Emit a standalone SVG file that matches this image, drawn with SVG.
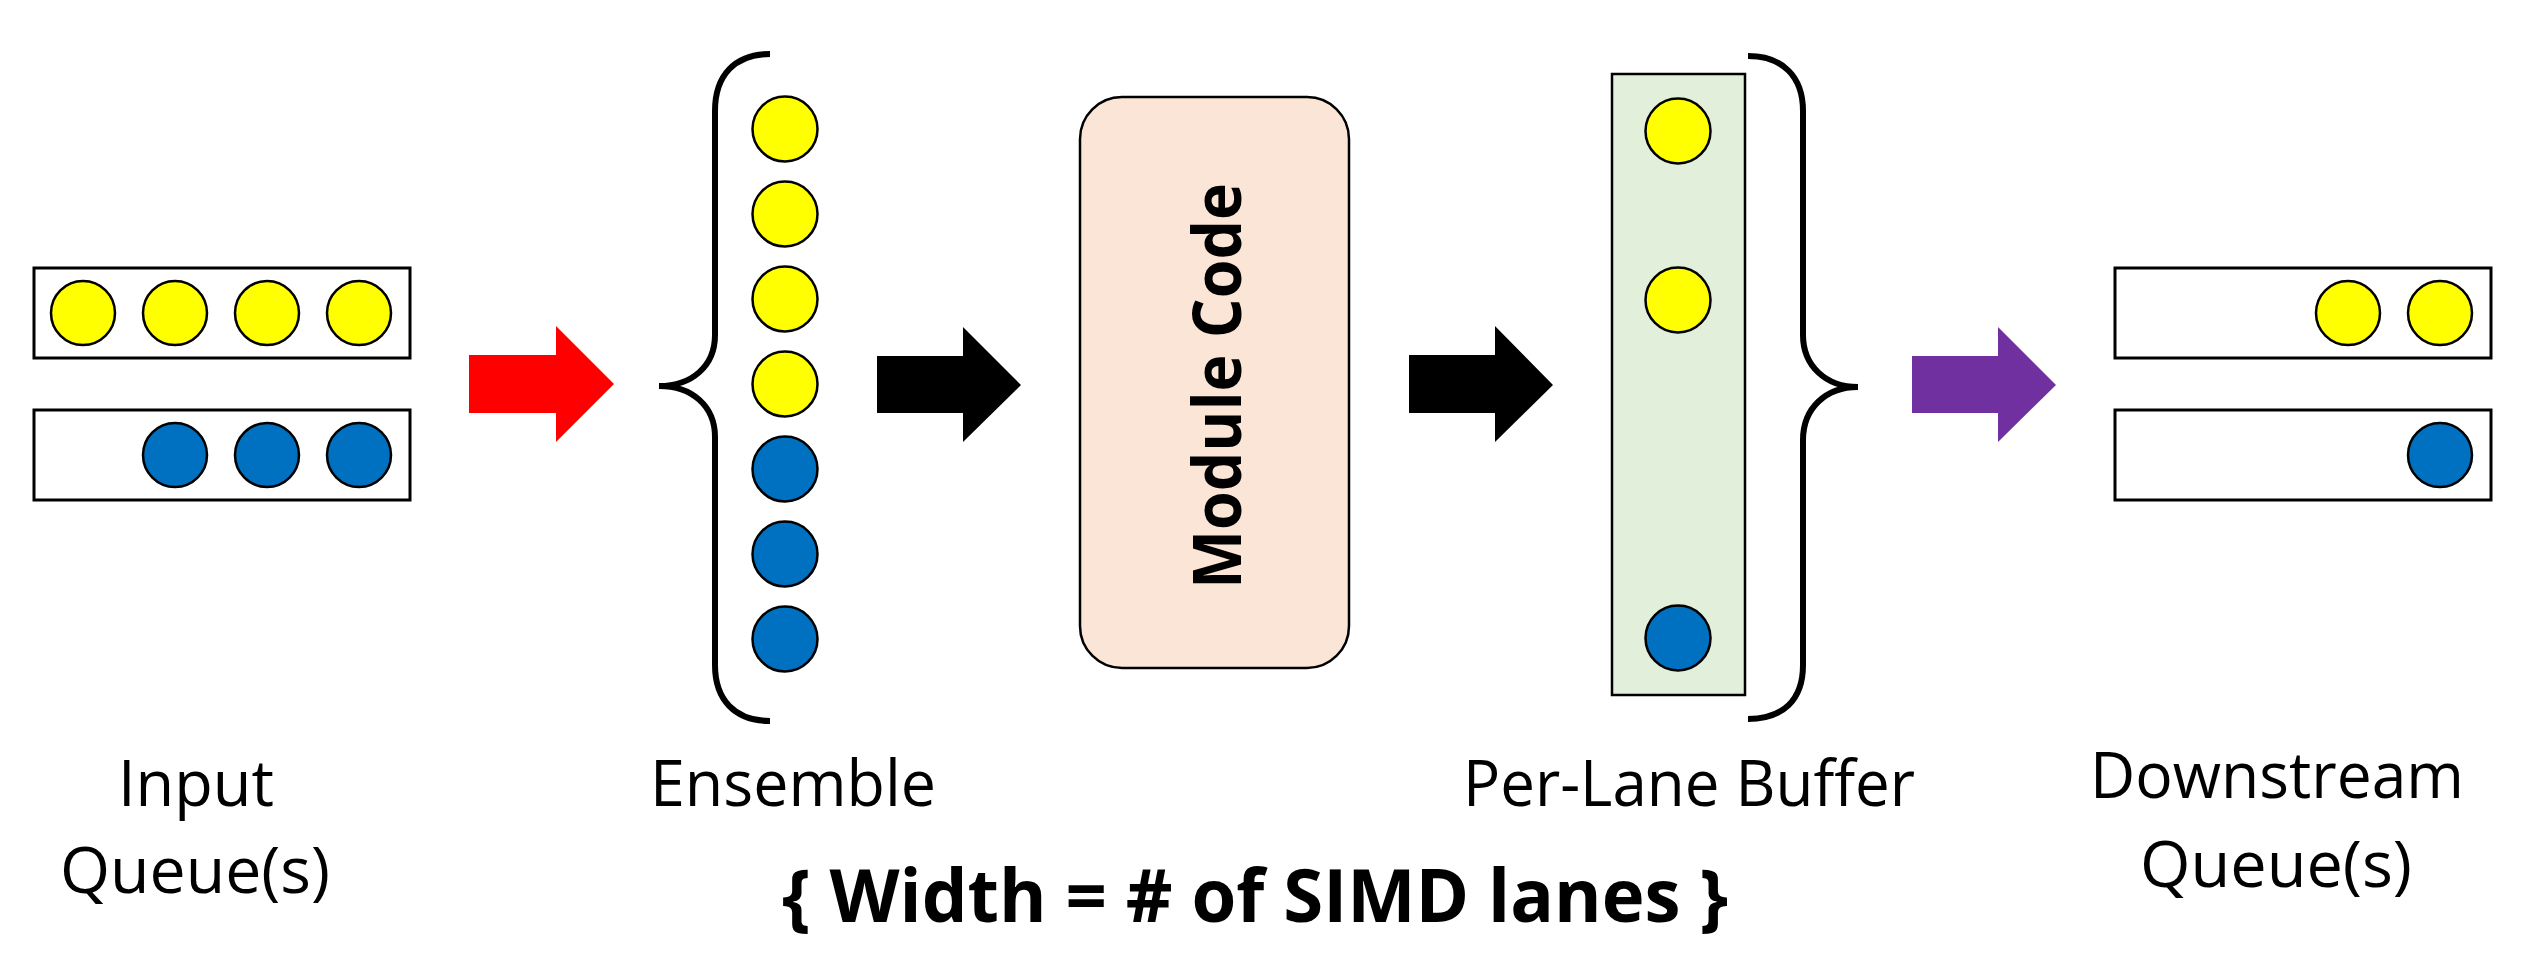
<svg xmlns="http://www.w3.org/2000/svg" width="2529" height="970" viewBox="0 0 2529 970">
<style>
.q{fill:#fff;stroke:#000;stroke-width:3}
.y{fill:#FFFF00;stroke:#000;stroke-width:2.5}
.b{fill:#0070C0;stroke:#000;stroke-width:2.5}
.br{fill:none;stroke:#000;stroke-width:6}
.lbl{font-family:"Open Sans","Liberation Sans",sans-serif;font-size:64px;fill:#000;text-anchor:middle}
.bold{font-family:"Open Sans","Liberation Sans",sans-serif;font-weight:bold;fill:#000;text-anchor:middle}
</style>
<rect width="2529" height="970" fill="#fff"/>
<g id="input-queues">
<rect class="q" x="34" y="268" width="376" height="90"/>
<circle class="y" cx="83" cy="313" r="32"/>
<circle class="y" cx="175" cy="313" r="32"/>
<circle class="y" cx="267" cy="313" r="32"/>
<circle class="y" cx="359" cy="313" r="32"/>
<rect class="q" x="34" y="410" width="376" height="90"/>
<circle class="b" cx="175" cy="455" r="32"/>
<circle class="b" cx="267" cy="455" r="32"/>
<circle class="b" cx="359" cy="455" r="32"/>
<text class="lbl" x="196" y="806" textLength="156" lengthAdjust="spacingAndGlyphs">Input</text>
<text class="lbl" x="195" y="893" textLength="270" lengthAdjust="spacingAndGlyphs">Queue(s)</text>
</g>
<g id="ensemble">
<path class="br" d="M770,54 C735,54 715,75 715,111 L715,335 C715,366 692,386 659,386 C692,386 715,406 715,437 L715,665 C715,700 735,721 770,721"/>
<circle class="y" cx="785" cy="129" r="32.5"/>
<circle class="y" cx="785" cy="214" r="32.5"/>
<circle class="y" cx="785" cy="299" r="32.5"/>
<circle class="y" cx="785" cy="384" r="32.5"/>
<circle class="b" cx="785" cy="469" r="32.5"/>
<circle class="b" cx="785" cy="554" r="32.5"/>
<circle class="b" cx="785" cy="639" r="32.5"/>
<text class="lbl" x="793" y="806" textLength="286" lengthAdjust="spacingAndGlyphs">Ensemble</text>
</g>
<g id="module-code">
<rect x="1080" y="97" width="269" height="571" rx="42" ry="42" fill="#FBE5D6" stroke="#000" stroke-width="2.5"/>
<text class="bold" font-size="66" transform="translate(1241,386) rotate(-90)" x="0" y="0" textLength="406" lengthAdjust="spacingAndGlyphs">Module Code</text>
</g>
<g id="per-lane-buffer">
<rect x="1612" y="74" width="133" height="621" fill="#E2EFDA" stroke="#000" stroke-width="2.5"/>
<circle class="y" cx="1678" cy="131" r="32.5"/>
<circle class="y" cx="1678" cy="300" r="32.5"/>
<circle class="b" cx="1678" cy="638" r="32.5"/>
<path class="br" d="M1748,56 C1783,56 1803,77 1803,111 L1803,335 C1803,366 1826,387 1858,387 C1826,387 1803,408 1803,440 L1803,665 C1803,700 1783,719 1748,719"/>
<text class="lbl" x="1689" y="806" textLength="452" lengthAdjust="spacingAndGlyphs">Per-Lane Buffer</text>
</g>
<g id="downstream-queues">
<rect class="q" x="2115" y="268" width="376" height="90"/>
<circle class="y" cx="2348" cy="313" r="32"/>
<circle class="y" cx="2440" cy="313" r="32"/>
<rect class="q" x="2115" y="410" width="376" height="90"/>
<circle class="b" cx="2440" cy="455" r="32"/>
<text class="lbl" x="2277" y="798" textLength="374" lengthAdjust="spacingAndGlyphs">Downstream</text>
<text class="lbl" x="2276" y="887" textLength="272" lengthAdjust="spacingAndGlyphs">Queue(s)</text>
</g>
<g id="width-note">
<text class="bold" font-size="74" x="1255" y="922" textLength="946" lengthAdjust="spacingAndGlyphs">{ Width = # of SIMD lanes }</text>
</g>
<g id="connectors">
<polygon points="469,355 556,355 556,326 614,384 556,442 556,413 469,413" fill="#FF0000"/>
<polygon points="877,356 963,356 963,327 1021,385 963,442 963,413 877,413" fill="#000"/>
<polygon points="1409,355 1495,355 1495,326 1553,385 1495,442 1495,413 1409,413" fill="#000"/>
<polygon points="1912,356 1998,356 1998,327 2056,385 1998,442 1998,413 1912,413" fill="#7030A0"/>
</g>
</svg>
